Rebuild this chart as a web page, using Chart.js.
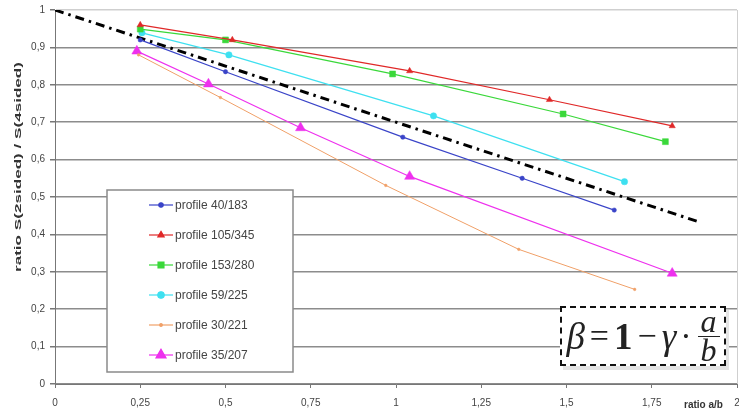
<!DOCTYPE html>
<html>
<head>
<meta charset="utf-8">
<script src="https://cdn.jsdelivr.net/npm/chart.js@4.4.1/dist/chart.umd.min.js"></script>
<style>
  html, body { margin:0; padding:0; background:#fff; overflow:hidden; }
  #wrap { position:relative; width:739px; height:414px; overflow:hidden; }
  #formula {
    position:absolute; left:560px; top:306px; width:162px; height:56px;
    border:2px dashed #111; background:#fff;
    box-shadow: 3px 4px 0 #e4e4e4;
    display:flex; align-items:center; justify-content:center;
    font-family:"Liberation Serif","Times New Roman",serif; color:#222; font-size:37px;
  }
  #formula .it { font-style:italic; }
  #formula .b { font-weight:bold; }
  #formula .op { margin:0 5px; font-size:34px; }
  #formula .frac { display:inline-flex; flex-direction:column; align-items:center; font-style:italic; font-size:32px; line-height:25px; margin-left:2px; }
  #formula .frac .num { border-bottom:1.5px solid #222; padding:0 3px 2px; }
  #formula .frac .den { padding-top:1px; }
</style>
</head>
<body>
<div id="wrap">
  <canvas id="c" width="739" height="414"></canvas>
  <div id="formula"><span class="it">β</span><span class="op">=</span><span class="b">1</span><span class="op">−</span><span class="it">γ</span><span class="op" style="margin:0 4px">·</span><span class="frac"><span class="num">a</span><span class="den">b</span></span></div>
</div>
<script>
// ---- data ----
const seriesNames = ["profile 40/183","profile 105/345","profile 153/280","profile 59/225","profile 30/221","profile 35/207"];
const xBlue   = [0.25, 0.50, 1.02, 1.37, 1.64];
const yBlue   = [0.92, 0.835, 0.66, 0.55, 0.465];
const xRed    = [0.25, 0.52, 1.04, 1.45, 1.81];
const yRed    = [0.96, 0.92, 0.837, 0.76, 0.69];
const xGreen  = [0.25, 0.50, 0.99, 1.49, 1.79];
const yGreen  = [0.949, 0.92, 0.829, 0.722, 0.648];
const xCyan   = [0.255, 0.51, 1.11, 1.67];
const yCyan   = [0.939, 0.88, 0.717, 0.541];
const xOrange = [0.245, 0.485, 0.97, 1.36, 1.70];
const yOrange = [0.88, 0.766, 0.531, 0.36, 0.253];
const xPink   = [0.24, 0.45, 0.72, 1.04, 1.81];
const yPink   = [0.89, 0.802, 0.685, 0.555, 0.296];
const xFit    = [0, 1.89];
const yFit    = [1, 0.433];
const xTicks  = [0, 0.25, 0.5, 0.75, 1, 1.25, 1.5, 1.75, 2];
const yTicks  = [0, 0.1, 0.2, 0.3, 0.4, 0.5, 0.6, 0.7, 0.8, 0.9, 1];
const xTitle = "ratio a/b";
const yTitle = "ratio S(2sided) / S(4sided)";

const pts = (xs, ys) => xs.map((x, i) => ({x, y: ys[i]}));
const fmt = v => String(Math.round(v * 100) / 100).replace('.', ',');

const styles = [
  {color:'#3a44c8', point:'circle',   r:2.2},
  {color:'#e02828', point:'triangle', r:3.6},
  {color:'#3ad83a', point:'rect',     r:4.2},
  {color:'#3ee0f0', point:'circle',   r:3.2},
  {color:'#f0a068', point:'circle',   r:1.3},
  {color:'#ee30ee', point:'triangle', r:5.8}
];
const seriesData = [pts(xBlue,yBlue), pts(xRed,yRed), pts(xGreen,yGreen), pts(xCyan,yCyan), pts(xOrange,yOrange), pts(xPink,yPink)];

const datasets = seriesData.map((d, i) => ({
  label: seriesNames[i], data: d, showLine: true,
  borderColor: styles[i].color, backgroundColor: styles[i].color,
  borderWidth: i === 4 ? 1 : 1.2, pointStyle: styles[i].point, pointRadius: styles[i].r,
  pointBorderWidth: 0.5, pointBorderColor: styles[i].color
}));
datasets.push({
  label: 'fit', data: pts(xFit, yFit), showLine: true,
  borderColor: '#000', borderWidth: 3, borderDash: [9, 5, 2.5, 5],
  pointRadius: 0
});

const legendPlugin = {
  id: 'customLegend',
  afterDraw(chart) {
    const ctx = chart.ctx;
    ctx.save();
    ctx.fillStyle = '#fff';
    ctx.fillRect(107, 190, 186, 182);
    ctx.strokeStyle = '#8a8a8a'; ctx.lineWidth = 1.5;
    ctx.strokeRect(107, 190, 186, 182);
    ctx.font = '12px "Liberation Sans", Arial, sans-serif';
    ctx.textBaseline = 'middle'; ctx.textAlign = 'left';
    seriesNames.forEach((n, i) => {
      const y = 205 + i * 30;
      ctx.strokeStyle = styles[i].color; ctx.lineWidth = 1.2;
      ctx.beginPath(); ctx.moveTo(149, y); ctx.lineTo(173, y); ctx.stroke();
      ctx.fillStyle = styles[i].color;
      Chart.helpers.drawPoint(ctx, {pointStyle: styles[i].point, radius: styles[i].r, borderWidth: 0.5}, 161, y);
      ctx.fill();
      ctx.fillStyle = '#444';
      ctx.fillText(n, 175, y + 0.5);
    });
    ctx.font = 'bold 9px "Liberation Sans", Arial, sans-serif';
    ctx.fillStyle = '#333';
    ctx.translate(19, 167);
    ctx.rotate(-Math.PI / 2);
    const w = ctx.measureText(yTitle).width;
    ctx.scale(210 / w, 1);
    ctx.textAlign = 'center';
    ctx.fillText(yTitle, 0, 0);
    ctx.restore();
    ctx.save();
    ctx.font = 'bold 10px "Liberation Sans", Arial, sans-serif';
    ctx.fillStyle = '#333'; ctx.textBaseline = 'middle'; ctx.textAlign = 'left';
    ctx.fillText(xTitle, 684, 405);
    ctx.restore();
  }
};

new Chart(document.getElementById('c'), {
  type: 'scatter',
  data: { datasets },
  plugins: [legendPlugin],
  options: {
    responsive: false, animation: false,
    layout: { autoPadding: false, padding: { top: 10, right: 2, left: 0, bottom: 0 } },
    plugins: { legend: { display: false }, tooltip: { enabled: false } },
    scales: {
      x: {
        type: 'linear', min: 0, max: 2,
        afterBuildTicks: s => { s.ticks = xTicks.map(v => ({value: v})); },
        afterFit: s => { s.height = 30; s.paddingRight = 0; s.paddingLeft = 0; },
        ticks: { callback: v => fmt(v), color: '#444', padding: 9, maxRotation: 0,
                 font: { size: 10, family: '"Liberation Sans", Arial, sans-serif' } },
        grid: { drawOnChartArea: true, drawTicks: true, tickLength: 4, tickColor: '#777',
                color: c => (c.tick && c.tick.value === 2) ? '#cfcfcf' : 'rgba(0,0,0,0)', lineWidth: 1 },
        border: { color: '#777', width: 1 }
      },
      y: {
        type: 'linear', min: 0, max: 1,
        afterBuildTicks: s => { s.ticks = yTicks.map(v => ({value: v})); },
        afterFit: s => { s.width = 55; s.paddingTop = 0; s.paddingBottom = 0; },
        ticks: { callback: v => fmt(v), color: '#444', padding: 5,
                 font: { size: 10, family: '"Liberation Sans", Arial, sans-serif' } },
        grid: { drawTicks: true, tickLength: 5, tickColor: '#777',
                color: c => (c.tick && c.tick.value === 1) ? '#cfcfcf' : '#8c8c8c',
                lineWidth: 1.5 },
        border: { color: '#777', width: 1 }
      }
    }
  }
});
</script>
</body>
</html>
